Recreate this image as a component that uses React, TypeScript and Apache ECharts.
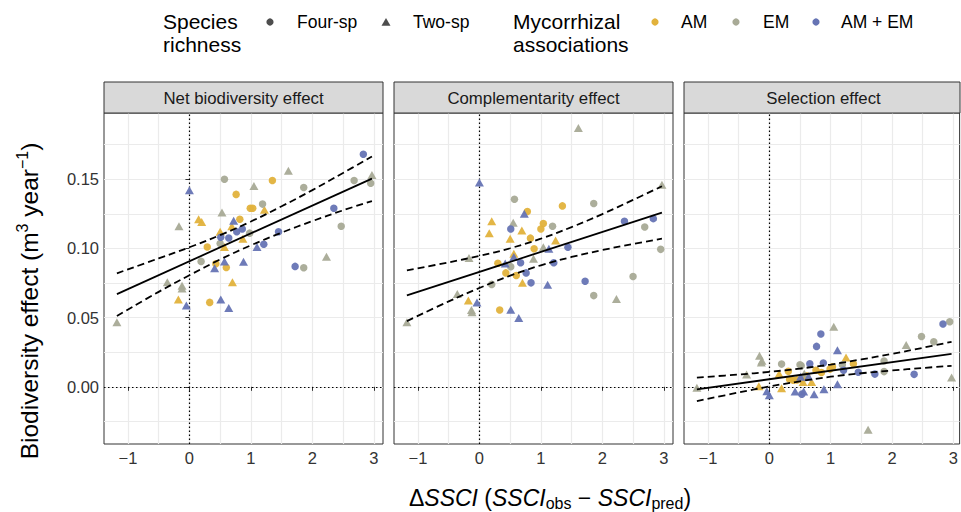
import React, { useEffect, useRef } from "react";
import * as echarts from "echarts";

type Pt = [number, number, "F" | "T", "AM" | "EM" | "AMEM"];

const FONT = "Liberation Sans, Arial, Helvetica, sans-serif";

const panelTitles = ["Net biodiversity effect", "Complementarity effect", "Selection effect"];
const xTicks = [-1, 0, 1, 2, 3];
const xGridVals = [-1, -0.5, 0, 0.5, 1, 1.5, 2, 2.5, 3];
const yTicks = [0, 0.05, 0.1, 0.15];
const yGridVals = [-0.025, 0, 0.025, 0.05, 0.075, 0.1, 0.125, 0.15, 0.175];

const groupColors: [string, string][] = [
  ["AM", "#E2B23C"],
  ["EM", "#A8AA96"],
  ["AMEM", "#6674B4"],
];

// x = ΔSSCI, y = effect, shape (F four-sp circle, T two-sp triangle), mycorrhizal group
const netPoints: Pt[] = [
  [2.83, 0.168, "F", "AMEM"], [2.97, 0.153, "T", "EM"], [2.68, 0.149, "F", "EM"], [2.95, 0.147, "F", "EM"],
  [1.61, 0.156, "T", "EM"], [1.35, 0.149, "F", "AM"], [0.57, 0.15, "F", "EM"], [1.05, 0.145, "T", "EM"],
  [1.86, 0.144, "F", "EM"], [0.0, 0.142, "T", "AMEM"], [0.76, 0.139, "F", "AM"], [1.19, 0.132, "F", "EM"],
  [0.99, 0.129, "F", "AM"], [1.03, 0.129, "F", "AM"], [1.22, 0.128, "T", "AM"], [2.35, 0.129, "F", "AMEM"],
  [0.53, 0.126, "T", "EM"], [0.15, 0.121, "T", "AM"], [0.2, 0.119, "T", "AM"], [-0.17, 0.116, "T", "EM"],
  [0.72, 0.12, "T", "AMEM"], [0.82, 0.121, "F", "AM"], [2.47, 0.116, "F", "EM"], [0.69, 0.116, "T", "AM"],
  [0.77, 0.112, "F", "AMEM"], [0.86, 0.114, "F", "AMEM"], [0.98, 0.111, "F", "EM"], [1.45, 0.112, "F", "AMEM"],
  [0.5, 0.112, "T", "AM"], [0.51, 0.108, "F", "AMEM"], [0.64, 0.1075, "F", "AMEM"], [0.87, 0.107, "T", "AM"],
  [0.5, 0.1035, "F", "EM"], [0.57, 0.101, "T", "AM"], [1.1, 0.101, "T", "AMEM"], [1.21, 0.103, "F", "AMEM"],
  [0.29, 0.101, "F", "AM"], [2.23, 0.094, "T", "EM"], [0.19, 0.0906, "F", "EM"], [0.41, 0.0857, "T", "AMEM"],
  [0.43, 0.0889, "F", "AM"], [0.57, 0.0906, "T", "AMEM"], [0.6, 0.0862, "F", "AM"], [0.88, 0.0903, "T", "AMEM"],
  [1.72, 0.087, "F", "AMEM"], [1.86, 0.086, "F", "EM"], [0.7, 0.0755, "T", "AM"], [-0.36, 0.0755, "T", "EM"],
  [-0.12, 0.073, "T", "EM"], [-0.12, 0.071, "T", "EM"], [-0.18, 0.063, "T", "AM"], [-0.05, 0.0587, "T", "AMEM"],
  [0.33, 0.061, "F", "AM"], [0.51, 0.063, "T", "AMEM"], [0.64, 0.057, "T", "AMEM"], [-1.18, 0.0466, "T", "EM"],
];

const compPoints: Pt[] = [
  [1.61, 0.187, "T", "EM"], [0.0, 0.1476, "T", "AMEM"], [2.97, 0.146, "T", "EM"], [0.57, 0.1355, "F", "EM"],
  [1.86, 0.1324, "F", "EM"], [1.35, 0.1307, "F", "AM"], [0.78, 0.1267, "F", "AM"], [0.73, 0.125, "T", "AMEM"],
  [2.36, 0.1196, "F", "AMEM"], [2.83, 0.1215, "F", "AMEM"], [0.2, 0.1196, "T", "AM"], [0.55, 0.1185, "T", "EM"],
  [1.04, 0.118, "F", "AM"], [1.0, 0.114, "F", "AM"], [1.19, 0.116, "F", "EM"], [2.69, 0.1154, "F", "EM"],
  [0.16, 0.111, "T", "AM"], [0.51, 0.114, "F", "AMEM"], [0.69, 0.113, "T", "AM"], [0.5, 0.107, "T", "AM"],
  [0.83, 0.1074, "F", "AM"], [1.24, 0.1057, "T", "AM"], [2.95, 0.0993, "F", "EM"], [0.89, 0.0997, "F", "AM"],
  [1.04, 0.1009, "T", "EM"], [1.13, 0.0997, "T", "AMEM"], [1.44, 0.1009, "F", "AMEM"], [0.56, 0.0962, "T", "AM"],
  [-0.17, 0.093, "T", "EM"], [0.56, 0.0938, "T", "AMEM"], [0.88, 0.0925, "T", "EM"], [0.67, 0.0896, "F", "AMEM"],
  [1.21, 0.0896, "F", "AMEM"], [0.3, 0.0893, "F", "AM"], [0.42, 0.089, "T", "AMEM"], [0.51, 0.0868, "F", "EM"],
  [0.43, 0.0823, "F", "AM"], [0.6, 0.0804, "F", "AM"], [0.76, 0.0823, "F", "AMEM"], [1.72, 0.0763, "F", "AMEM"],
  [2.5, 0.0797, "F", "EM"], [0.7, 0.0751, "T", "AM"], [0.84, 0.0751, "F", "AMEM"], [1.11, 0.0737, "T", "AMEM"],
  [0.2, 0.074, "F", "EM"], [-0.36, 0.0671, "T", "EM"], [1.86, 0.0659, "F", "EM"], [2.23, 0.0635, "T", "EM"],
  [-0.18, 0.0623, "T", "AM"], [-0.04, 0.061, "T", "AMEM"], [-0.12, 0.0538, "T", "EM"], [-0.13, 0.0555, "T", "EM"],
  [0.33, 0.0555, "F", "AM"], [0.51, 0.0557, "T", "AMEM"], [0.64, 0.0497, "T", "AMEM"], [-1.18, 0.0466, "T", "EM"],
];

const selPoints: Pt[] = [
  [2.83, 0.0454, "F", "AMEM"], [2.94, 0.047, "F", "EM"], [2.48, 0.0364, "F", "EM"], [2.68, 0.0326, "F", "EM"],
  [2.23, 0.0302, "T", "EM"], [2.36, 0.009, "F", "AMEM"], [2.97, 0.0067, "T", "EM"], [-1.18, -0.0006, "T", "EM"],
  [1.61, -0.031, "T", "EM"], [1.05, 0.0434, "T", "EM"], [0.84, 0.0381, "F", "AMEM"], [0.77, 0.0292, "F", "AMEM"],
  [1.11, 0.0265, "T", "AMEM"], [-0.16, 0.0224, "T", "EM"], [-0.12, 0.0188, "T", "EM"], [-0.13, 0.0175, "T", "EM"],
  [1.25, 0.0212, "T", "AM"], [0.2, 0.0164, "F", "EM"], [0.52, 0.0152, "F", "EM"], [0.66, 0.0167, "F", "AMEM"],
  [0.88, 0.0172, "F", "AMEM"], [1.37, 0.0167, "F", "AM"], [1.87, 0.0186, "F", "EM"], [1.87, 0.011, "F", "EM"],
  [1.45, 0.0105, "F", "AMEM"], [1.72, 0.0092, "F", "AMEM"], [1.21, 0.012, "F", "AMEM"], [-0.37, 0.0089, "T", "EM"],
  [0.16, 0.0095, "T", "AM"], [0.31, 0.0113, "F", "AM"], [0.39, 0.0048, "F", "AM"], [0.53, 0.0056, "F", "AM"],
  [0.61, 0.008, "F", "AM"], [0.85, 0.0104, "F", "AM"], [0.99, 0.0128, "F", "AM"], [1.03, 0.0145, "F", "AM"],
  [0.69, 0.0034, "T", "AM"], [0.55, 0.0034, "T", "AM"], [0.2, -0.001, "T", "AM"], [-0.17, 0.0005, "T", "AM"],
  [-0.04, -0.0032, "T", "AMEM"], [0.0, -0.006, "T", "AMEM"], [0.42, -0.0034, "T", "AMEM"], [0.56, -0.0034, "T", "AMEM"],
  [0.73, -0.0053, "T", "AMEM"], [0.53, -0.0053, "F", "AMEM"], [0.89, -0.0017, "T", "AMEM"], [1.11, 0.0019, "T", "AMEM"],
  [0.64, 0.0075, "T", "AMEM"], [0.51, 0.0073, "T", "AMEM"], [0.33, 0.0055, "F", "AM"], [0.57, 0.0095, "T", "EM"],
  [0.5, 0.016, "F", "EM"], [1.19, 0.016, "F", "EM"], [0.76, 0.012, "F", "AM"], [0.45, 0.005, "F", "AM"],
];

// fitted lines and confidence bands
const fitX = [-1.18, 2.97];
const netFit = [0.067, 0.1504];
const compFit = [0.066, 0.1259];
const selFit = [-0.0018, 0.0238];

const bandX = [-1.18, -0.5, 0, 0.5, 1, 1.5, 2, 2.5, 2.97];
const netUpper = [0.082, 0.0928, 0.1008, 0.1096, 0.1194, 0.1304, 0.1421, 0.1545, 0.1664];
const netLower = [0.0512, 0.0686, 0.0806, 0.092, 0.1022, 0.1114, 0.1197, 0.1275, 0.1342];
const compUpper = [0.0842, 0.0899, 0.0946, 0.1001, 0.107, 0.1154, 0.1248, 0.135, 0.1449];
const compLower = [0.0475, 0.0617, 0.0714, 0.0803, 0.0878, 0.0938, 0.0988, 0.1032, 0.107];
const selUpper = [0.0067, 0.0089, 0.0108, 0.0132, 0.0161, 0.0198, 0.0238, 0.0282, 0.0325];
const selLower = [-0.0103, -0.0041, 0.0002, 0.004, 0.0073, 0.0098, 0.0118, 0.0136, 0.0152];

const panels = [
  { points: netPoints, fit: netFit, upper: netUpper, lower: netLower },
  { points: compPoints, fit: compFit, upper: compUpper, lower: compLower },
  { points: selPoints, fit: selFit, upper: selUpper, lower: selLower },
];

const gridLeft = [104, 394, 684];
const gridWidth = [279, 279, 276];
const gridTop = 113;
const gridHeight = 331;
const xMin = -1.39;
const xMaxes = [3.15, 3.15, 3.101];
const yMin = -0.0413;
const yMax = 0.1978;

const fmtX = (v: number) => (v < 0 ? "\u2212" + Math.abs(v) : String(v));

function buildOption() {
  const grid: any[] = [];
  const xAxis: any[] = [];
  const yAxis: any[] = [];
  const series: any[] = [];
  const graphic: any[] = [];

  panels.forEach((pan, p) => {
    grid.push({
      left: gridLeft[p],
      top: gridTop,
      width: gridWidth[p],
      height: gridHeight,
      show: true,
      borderColor: "#333333",
      borderWidth: 1,
      backgroundColor: "#ffffff",
      z: 0,
    });
    xAxis.push({
      type: "value",
      gridIndex: p,
      min: xMin,
      max: xMaxes[p],
      position: "bottom",
      axisLine: { show: false },
      axisTick: { show: true, customValues: xTicks, length: 4, lineStyle: { color: "#333333", width: 1 } },
      axisLabel: { show: true, customValues: xTicks, formatter: fmtX, fontSize: 16.5, color: "#333333", margin: 5, fontFamily: FONT },
      splitLine: { show: false },
    });
    xAxis.push({
      type: "value",
      gridIndex: p,
      min: xMin,
      max: xMaxes[p],
      position: "bottom",
      axisLine: { show: false },
      axisTick: { show: false, customValues: xGridVals },
      axisLabel: { show: false },
      splitLine: { show: true, lineStyle: { color: "#EBEBEB", width: 1.2 } },
    });
    yAxis.push({
      type: "value",
      gridIndex: p,
      min: yMin,
      max: yMax,
      position: "left",
      axisLine: { show: false },
      axisTick: { show: p === 0, customValues: yTicks, length: 4, lineStyle: { color: "#333333", width: 1 } },
      axisLabel: {
        show: p === 0,
        customValues: yTicks,
        formatter: (v: number) => v.toFixed(2),
        fontSize: 16.5,
        color: "#333333",
        margin: 5,
        fontFamily: FONT,
      },
      splitLine: { show: false },
    });
    yAxis.push({
      type: "value",
      gridIndex: p,
      min: yMin,
      max: yMax,
      position: "left",
      axisLine: { show: false },
      axisTick: { show: false, customValues: yGridVals },
      axisLabel: { show: false },
      splitLine: { show: true, lineStyle: { color: "#EBEBEB", width: 1.2 } },
    });

    const xi = 2 * p;
    const yi = 2 * p;

    series.push({
      type: "line",
      xAxisIndex: xi,
      yAxisIndex: yi,
      data: [],
      silent: true,
      z: 1,
      markLine: {
        silent: true,
        z: 1,
        symbol: ["none", "none"],
        label: { show: false },
        lineStyle: { color: "#000000", type: [1.5, 2.5], width: 1.2 },
        emphasis: { disabled: true },
        data: [{ xAxis: 0 }, { yAxis: 0 }],
      },
    });

    groupColors.forEach(([g, color]) => {
      (["F", "T"] as const).forEach((shape) => {
        series.push({
          type: "scatter",
          xAxisIndex: xi,
          yAxisIndex: yi,
          symbol: shape === "F" ? "circle" : "triangle",
          symbolSize: shape === "F" ? 7.5 : [9, 8],
          itemStyle: { color, opacity: 0.95 },
          silent: true,
          z: 3,
          data: pan.points.filter((d) => d[2] === shape && d[3] === g).map((d) => [d[0], d[1]]),
        });
      });
    });

    series.push({
      type: "line",
      xAxisIndex: xi,
      yAxisIndex: yi,
      data: fitX.map((x, i) => [x, pan.fit[i]]),
      symbol: "none",
      silent: true,
      z: 4,
      lineStyle: { color: "#000000", width: 1.8 },
    });
    [pan.upper, pan.lower].forEach((band) => {
      series.push({
        type: "line",
        xAxisIndex: xi,
        yAxisIndex: yi,
        data: bandX.map((x, i) => [x, band[i]]),
        symbol: "none",
        smooth: 0.4,
        silent: true,
        z: 4,
        lineStyle: { color: "#000000", width: 1.8, type: [7, 4] },
      });
    });

    graphic.push({
      type: "rect",
      shape: { x: gridLeft[p], y: 82, width: gridWidth[p], height: 31 },
      style: { fill: "#D9D9D9", stroke: "#333333", lineWidth: 1 },
      z: 10,
    });
    graphic.push({
      type: "text",
      x: gridLeft[p] + gridWidth[p] / 2 + (p === 2 ? 1.5 : 0),
      y: 98,
      style: {
        text: panelTitles[p],
        fontSize: 16.8,
        fontFamily: FONT,
        fill: "#1A1A1A",
        align: "center",
        verticalAlign: "middle",
      },
      z: 11,
    });
  });

  // legend
  const legY = 22;
  const legTitle = { fontSize: 21, fontFamily: FONT, fill: "#000000", lineHeight: 23 };
  const legLabel = { fontSize: 17.5, fontFamily: FONT, fill: "#000000", verticalAlign: "middle" };
  graphic.push({ type: "text", x: 163, y: legY - 12, style: { ...legTitle, text: "Species\nrichness", verticalAlign: "top" } });
  graphic.push({ type: "circle", shape: { cx: 270, cy: legY, r: 3.6 }, style: { fill: "#4D4D4D" } });
  graphic.push({ type: "text", x: 297, y: legY, style: { ...legLabel, text: "Four-sp" } });
  graphic.push({
    type: "polygon",
    shape: { points: [[381.5, legY + 3.8], [390.5, legY + 3.8], [386, legY - 4]] },
    style: { fill: "#4D4D4D" },
  });
  graphic.push({ type: "text", x: 413, y: legY, style: { ...legLabel, text: "Two-sp" } });
  graphic.push({ type: "text", x: 513, y: legY - 12, style: { ...legTitle, text: "Mycorrhizal\nassociations", verticalAlign: "top" } });
  const legGroups: [number, number, string, string][] = [
    [655, 681, "AM", groupColors[0][1]],
    [736, 763, "EM", groupColors[1][1]],
    [816, 841, "AM + EM", groupColors[2][1]],
  ];
  legGroups.forEach(([cx, tx, label, color]) => {
    graphic.push({ type: "circle", shape: { cx, cy: legY, r: 3.6 }, style: { fill: color } });
    graphic.push({ type: "text", x: tx, y: legY, style: { ...legLabel, text: label } });
  });

  // axis titles
  graphic.push({
    type: "text",
    x: 550,
    y: 498,
    style: {
      text: "{n|\u0394}{i|SSCI}{n| (}{i|SSCI}{s|obs}{n| \u2212 }{i|SSCI}{s|pred}{n|)}",
      align: "center",
      verticalAlign: "middle",
      rich: {
        n: { fontSize: 23, fontFamily: FONT, fill: "#000000" },
        i: { fontSize: 23, fontFamily: FONT, fontStyle: "italic", fill: "#000000" },
        s: { fontSize: 16, fontFamily: FONT, fill: "#000000", padding: [11, 0, 0, 0] },
      },
    },
  });
  graphic.push({
    type: "text",
    x: 29,
    y: 301,
    rotation: Math.PI / 2,
    style: {
      text: "{n|Biodiversity effect (m}{p|3}{n| year}{p|\u22121}{n|)}",
      align: "center",
      verticalAlign: "middle",
      rich: {
        n: { fontSize: 24.5, fontFamily: FONT, fill: "#000000" },
        p: { fontSize: 16, fontFamily: FONT, fill: "#000000", padding: [0, 0, 14, 0] },
      },
    },
  });

  return {
    animation: false,
    backgroundColor: "#ffffff",
    textStyle: { fontFamily: FONT },
    grid,
    xAxis,
    yAxis,
    series,
    graphic: { elements: graphic },
  };
}

export default function App() {
  const ref = useRef<HTMLDivElement>(null);
  useEffect(() => {
    if (!ref.current) return;
    const chart = echarts.init(ref.current, undefined, { renderer: "svg" });
    chart.setOption(buildOption() as any);
    return () => chart.dispose();
  }, []);
  return (
    <div
      ref={ref}
      style={{ position: "fixed", left: 0, top: 0, width: 961, height: 512, background: "#fff" }}
    />
  );
}
